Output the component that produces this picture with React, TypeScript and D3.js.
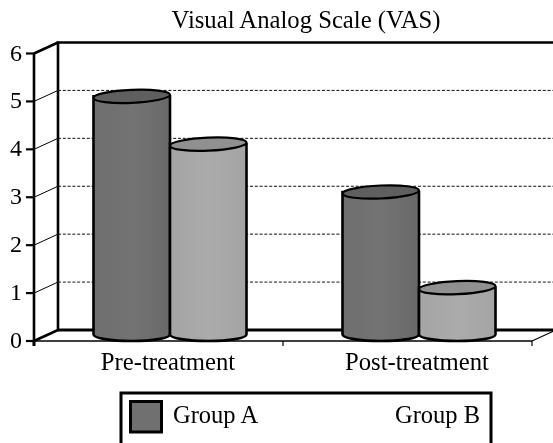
import React from "react";
import * as d3 from "d3";

const categories = ["Pre-treatment", "Post-treatment"];
const seriesNames = ["Group A", "Group B"];
const groupA = [5, 3];
const groupB = [4, 1];
const yTicks = [0, 1, 2, 3, 4, 5, 6];
const font = "'Liberation Serif', 'Times New Roman', serif";

const W = 553, H = 443;
const fx0 = 34, fx1 = 532, fy0 = 341, fy6 = 53.5;
const dx = 24, dy = -11;

export default function App() {
  const yFront = d3.scaleLinear().domain([0, 6]).range([fy0, fy6]);
  const yBar = d3.scaleLinear().domain([0, 6]).range([335.5, 48.5]);
  const xCat = d3.scaleBand().domain(categories).range([fx0 + 11.5, fx1 + 11.5]).paddingInner(0).paddingOuter(0);
  const barW = 76.5;
  const ry = 6.5;
  const cyl = (x: number, v: number, fill: string, top: string, key: string) => {
    const yt = yBar(v), yb = yBar(0) - 1;
    const rx = barW / 2;
    const p = `M${x},${yt} L${x},${yb} A${rx},${ry} 0 0 0 ${x + barW},${yb} L${x + barW},${yt} Z`;
    return (
      <g key={key}>
        <path d={p} fill={`url(#${fill})`} stroke="#000" strokeWidth={2.6} />
        <ellipse cx={x + rx} cy={yt} rx={rx} ry={ry} fill={top} stroke="#000" strokeWidth={2.2}
          transform={`rotate(-2.5 ${x + rx} ${yt})`} />
      </g>
    );
  };
  const offset = (xCat.bandwidth() - 2 * barW) / 2;
  return (
    <svg width={W} height={H} style={{ position: "absolute", left: 0, top: 0, background: "#fff", fontFamily: font }}>
      <defs>
        <linearGradient id="gA" x1="0" x2="1" y1="0" y2="0">
          <stop offset="0" stopColor="#6e6e6e" />
          <stop offset="0.5" stopColor="#737373" />
          <stop offset="1" stopColor="#696969" />
        </linearGradient>
        <linearGradient id="gB" x1="0" x2="1" y1="0" y2="0">
          <stop offset="0" stopColor="#a4a4a4" />
          <stop offset="0.5" stopColor="#ababab" />
          <stop offset="1" stopColor="#a4a4a4" />
        </linearGradient>
        <filter id="soft" x="0" y="0" width="100%" height="100%">
          <feGaussianBlur stdDeviation="0.35" />
        </filter>
      </defs>
      <g filter="url(#soft)">
        <text x={306} y={27.5} textAnchor="middle" fontSize={24.7}>Visual Analog Scale (VAS)</text>

        {/* back wall */}
        <path d={`M${fx0 + dx},${yFront(0) + dy} V${yFront(6) + dy} H${W + 2}`} fill="none" stroke="#000" strokeWidth={2.6} />
        <line x1={fx0 + dx} x2={W} y1={yFront(0) + dy} y2={yFront(0) + dy} stroke="#000" strokeWidth={2.8} />
        {yTicks.filter(t => t > 0 && t < 6).map(t => (
          <g key={t}>
            <line x1={fx0 + dx} x2={W} y1={yFront(t) + dy} y2={yFront(t) + dy} stroke="#111" strokeWidth={1} strokeDasharray="3 1.8" />
            <line x1={fx0} x2={fx0 + dx} y1={yFront(t)} y2={yFront(t) + dy} stroke="#000" strokeWidth={1} />
          </g>
        ))}
        <line x1={fx0} x2={fx0 + dx} y1={yFront(6)} y2={yFront(6) + dy} stroke="#000" strokeWidth={2.6} />
        <line x1={fx0} x2={fx0 + dx} y1={yFront(0)} y2={yFront(0) + dy} stroke="#000" strokeWidth={2.6} />
        <line x1={fx1} x2={fx1 + dx} y1={yFront(0)} y2={yFront(0) + dy} stroke="#000" strokeWidth={1.2} />

        {/* front axes */}
        <line x1={fx0} x2={fx0} y1={fy6} y2={fy0 + 5} stroke="#000" strokeWidth={2.6} />
        <line x1={fx0} x2={fx1} y1={fy0} y2={fy0} stroke="#000" strokeWidth={1.6} />
        {[fx0, (fx0 + fx1) / 2, fx1].map((x, i) => (
          <line key={i} x1={x} x2={x} y1={fy0} y2={fy0 + 5} stroke="#000" strokeWidth={i === 0 ? 2.6 : 1.2} />
        ))}
        {yTicks.map(t => (
          <g key={t}>
            <line x1={fx0 - 8} x2={fx0} y1={yFront(t)} y2={yFront(t)} stroke="#000" strokeWidth={2.2} />
            <text x={16} y={yFront(t) + 7} textAnchor="middle" fontSize={24}>{t}</text>
          </g>
        ))}

        {/* bars */}
        {categories.map((c, i) => {
          const x = (xCat(c) as number) + offset;
          return (
            <g key={c}>
              {cyl(x, groupA[i], "gA", "#5e5e5e", c + "a")}
              {cyl(x + barW, groupB[i], "gB", "#909090", c + "b")}
            </g>
          );
        })}

        {categories.map(c => (
          <text key={c} x={(xCat(c) as number) + xCat.bandwidth() / 2 - 2} y={369.5} textAnchor="middle" fontSize={24.7}>{c}</text>
        ))}

        {/* legend */}
        <rect x={121} y={393} width={370} height={60} fill="#fff" stroke="#000" strokeWidth={3} />
        <rect x={130.5} y={401.5} width={31} height={30.5} fill="#707070" stroke="#000" strokeWidth={3} />
        <text x={173} y={423} fontSize={24.5}>{seriesNames[0]}</text>
        <text x={395} y={423} fontSize={24.5}>{seriesNames[1]}</text>
      </g>
    </svg>
  );
}
